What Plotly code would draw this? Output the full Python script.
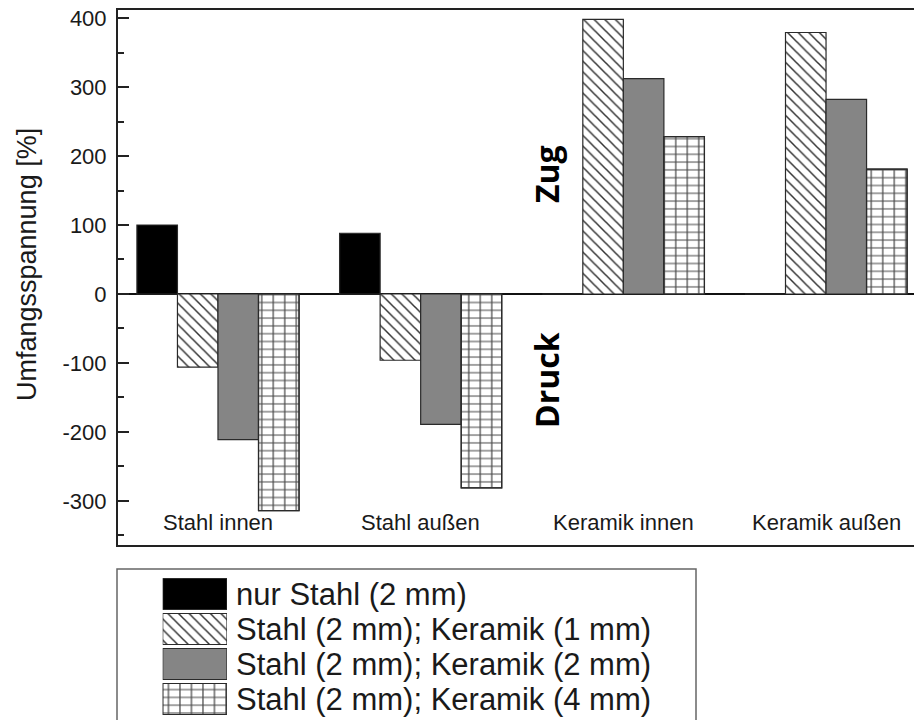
import plotly.graph_objects as go

# Data
categories = ["Stahl innen", "Stahl außen", "Keramik innen", "Keramik außen"]
series_names = [
    "nur Stahl (2 mm)",
    "Stahl (2 mm); Keramik (1 mm)",
    "Stahl (2 mm); Keramik (2 mm)",
    "Stahl (2 mm); Keramik (4 mm)",
]
nur_stahl = [100, 88, 0, 0]
keramik_1mm = [-106, -96, 398, 379]
keramik_2mm = [-211, -189, 312, 282]
keramik_4mm = [-314, -281, 228, 181]
series_values = [nur_stahl, keramik_1mm, keramik_2mm, keramik_4mm]

y_tickvals = [-300, -200, -100, 0, 100, 200, 300, 400]
y_ticklabels = ["-300", "-200", "-100", "0", "100", "200", "300", "400"]
y_title = "Umfangsspannung [%]"
zone_labels = ["Zug", "Druck"]

# Styles per series: (fill colour, pattern shape, pattern size, solidity)
styles = [
    ("#000000", "", 8, 0.2),
    ("#333333", "\\", 7.5, 0.2),
    ("#858585", "", 8, 0.2),
    ("#4a4a4a", "-", 7.8, 0.13),   # horizontal part of the grid fill
]
GRID_V = ("#4a4a4a", "|", 11.5, 0.11)  # vertical part of the grid fill

W, H = 914, 720


def px(x):
    return x / W


def py(y):
    return 1 - y / H


FONT = "Arial, Liberation Sans, sans-serif"
TEXT = "#1a1a1a"
EDGE = dict(color="#2a2a2a", width=1.2)

fig = go.Figure()

for k, (name, vals, (col, shape, size, sol)) in enumerate(
        zip(series_names, series_values, styles)):
    fig.add_trace(go.Bar(
        x=categories, y=vals, name=name, showlegend=False,
        offsetgroup=str(k),
        marker=dict(
            color=col, line=EDGE,
            pattern=dict(shape=shape, bgcolor="white", fgcolor=col,
                         size=size, solidity=sol, fillmode="replace"),
        ),
        xaxis="x", yaxis="y",
    ))

# vertical lines of the grid fill, laid over the last series
fig.add_trace(go.Bar(
    x=categories, y=keramik_4mm, showlegend=False, hoverinfo="skip",
    offsetgroup="3",
    marker=dict(
        color=GRID_V[0], line=EDGE,
        pattern=dict(shape=GRID_V[1], bgcolor="rgba(0,0,0,0)", fgcolor=GRID_V[0],
                     size=GRID_V[2], solidity=GRID_V[3], fillmode="replace"),
    ),
    xaxis="x", yaxis="y",
))

# Legend swatches drawn as bars on a small hidden axis
rows = list(range(len(series_names)))
fig.add_trace(go.Bar(
    x=[1] * len(series_names), y=rows, offsetgroup="legend",
    orientation="h", width=0.886, showlegend=False, hoverinfo="skip",
    marker=dict(
        color=[s[0] for s in styles], line=EDGE,
        pattern=dict(shape=[s[1] for s in styles], bgcolor="white",
                     fgcolor=[s[0] for s in styles],
                     size=[s[2] for s in styles],
                     solidity=[s[3] for s in styles],
                     fillmode="replace"),
    ),
    xaxis="x2", yaxis="y2",
))
fig.add_trace(go.Bar(
    x=[1], y=[rows[-1]], offsetgroup="legend",
    orientation="h", width=0.886, showlegend=False, hoverinfo="skip",
    marker=dict(
        color=GRID_V[0], line=EDGE,
        pattern=dict(shape=GRID_V[1], bgcolor="rgba(0,0,0,0)", fgcolor=GRID_V[0],
                     size=GRID_V[2], solidity=GRID_V[3], fillmode="replace"),
    ),
    xaxis="x2", yaxis="y2",
))

annotations = []
# Category labels inside the plot, just above the bottom axis
for c in categories:
    annotations.append(dict(
        x=c, y=-331, xref="x", yref="y", text=c, showarrow=False,
        font=dict(family=FONT, size=22, color=TEXT),
        xanchor="center", yanchor="middle",
    ))
# Axis title
annotations.append(dict(
    x=px(27), y=py(265), xref="paper", yref="paper", text=y_title,
    showarrow=False, textangle=-90, font=dict(family=FONT, size=27, color=TEXT),
    xanchor="center", yanchor="middle",
))
# Tension / compression labels
for lbl, yc in zip(zone_labels, [174, 380]):
    annotations.append(dict(
        x=px(546), y=py(yc), xref="paper", yref="paper",
        text="<b>%s</b>" % lbl, showarrow=False, textangle=-90,
        font=dict(family="Open Sans, sans-serif", size=32, color="black"),
        xanchor="center", yanchor="middle",
    ))
# Legend texts
for i, name in enumerate(series_names):
    annotations.append(dict(
        x=px(234), y=py(594 + 35 * i), xref="paper", yref="paper", text=name,
        showarrow=False, font=dict(family=FONT, size=31, color=TEXT),
        xanchor="left", yanchor="middle",
    ))

fig.update_layout(
    width=W, height=H,
    margin=dict(l=0, r=0, t=0, b=0),
    paper_bgcolor="white", plot_bgcolor="white",
    barmode="group", bargap=0.2, bargroupgap=0,
    showlegend=False,
    xaxis=dict(
        domain=[px(118), 1], range=[-0.4933, 3.434],
        showticklabels=False, ticks="", showgrid=False, zeroline=False,
        showline=True, linecolor="#222", linewidth=2, mirror=True,
        automargin=False,
    ),
    yaxis=dict(
        domain=[py(545), py(10)], range=[-363.8, 411.6],
        tickmode="array", tickvals=y_tickvals, ticktext=y_ticklabels,
        ticks="inside", ticklen=11, tickwidth=1.5, tickcolor="#222",
        minor=dict(tickmode="linear", tick0=0, dtick=50, ticks="inside",
                   ticklen=6, tickwidth=1.5, tickcolor="#222"),
        tickfont=dict(family=FONT, size=22, color=TEXT),
        ticklabelstandoff=5,
        showgrid=False, zeroline=True, zerolinecolor="#111", zerolinewidth=1.8,
        showline=True, linecolor="#222", linewidth=2, mirror=False,
        automargin=False,
    ),
    xaxis2=dict(domain=[px(162.7), px(227)], range=[0, 1], visible=False,
                anchor="y2", fixedrange=True),
    yaxis2=dict(domain=[py(716.5), py(576.5)], range=[3.5, -0.5], visible=False,
                anchor="x2", fixedrange=True),
    annotations=annotations,
    shapes=[dict(
        type="rect", xref="paper", yref="paper",
        x0=px(117), x1=px(696), y0=-0.05, y1=py(569),
        line=dict(color="#666", width=1.5), fillcolor="rgba(0,0,0,0)",
    )],
)

fig.write_html("out.html")
